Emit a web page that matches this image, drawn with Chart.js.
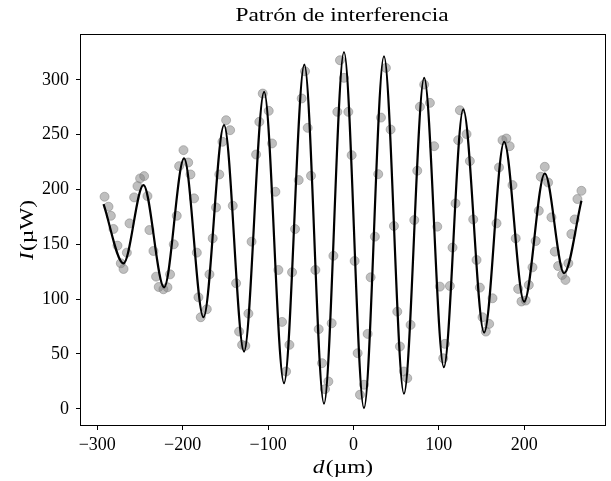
<!DOCTYPE html>
<html>
<head>
<meta charset="utf-8">
<script src="https://cdn.jsdelivr.net/npm/chart.js@4.4.1/dist/chart.umd.min.js"></script>
<style>
html,body{margin:0;padding:0;background:#fff;}
</style>
</head>
<body>
<canvas id="patron" width="611" height="481"></canvas>
<script>
/*medidas: posicion d (um) e intensidad I (uW)*/
var d_med = [-291.4,-286.8,-284,-281,-276.3,-272.4,-269.2,-265.3,-262.2,-256.8,-252.9,-249.8,-245.1,-241.2,-238.9,-234.2,-231.1,-228,-222.5,-217.8,-214.7,-210.4,-206.9,-204.1,-199,-193.5,-190.8,-186.6,-183.4,-181.5,-178.8,
    -171.7,-168.6,-164.8,-160.9,-157.1,-153.4,-149.1,-144.4,-141.3,-137.4,-133.9,-130.4,-126.6,-123,-119.3,-114,-110.2,-106.2,-99.2,-95.3,-91.4,-87.9,-83.6,-78.9,-75,-71.9,-68.4,-64.1,-60.6,-56.7,-53.6,-49.7,-44.6,-40.7,-36.8,
    -33.3,-29.4,-25.5,-23.5,-18.9,-15.8,-11.1,-6,-2.1,1.4,4.9,7.6,12.3,16.6,20.1,25.1,29,32.2,38,43.5,47.4,51.3,54.4,59.1,63,66.9,71.2,74.7,77.8,82.8,89.5,94.5,98.1,101.2,105.1,107,112.9,116,119.5,122.6,124.6,
    132.4,136.3,140.2,144.1,148,151.1,155,158.9,162.8,167.5,170.4,174.5,179,182.9,186.2,190,192.8,196.7,201.7,205.3,209.6,213.4,217,219.3,224,227.9,231.8,235.7,239.6,244.3,248.2,251.6,255.1,259,262.2,266.9];
var i_med = [193.4,184.3,176,164,148.8,132.7,127.5,142.4,169.1,192.8,203.1,210.1,212.2,194,163,143.9,120.5,111.1,109,110.8,122.6,150,176,221.3,235.9,224.6,213.7,191.9,142.4,101.7,83.5,
    90.8,122.6,155.4,183.6,213.7,243.5,263.2,254.1,185.2,114.5,70.4,58.3,57.4,86.8,152.4,231.9,261.7,287.5,271.7,242,197.9,126.6,79.2,34,58.3,124.5,163.9,208.6,283,307.8,256.2,212.5,126.6,72.6,41.6,
    17.9,24.9,78,139.5,270.8,317.9,301.8,270.8,231.3,134.8,50.7,12.8,21.9,68.3,119.9,157,214,265.6,310.9,254.7,166.7,88.6,56.8,34,27.9,76.5,172.1,217.1,275.4,295.7,279,239.5,166.1,111.4,46.1,59.2,112,147,187.3,245,272.3,
    250.5,225.9,172.7,135.7,110.5,83.5,70.4,77.4,100.8,169.1,220.1,245,246.5,239.5,204,155.4,109.3,97.8,98.7,112.9,129,153,180.6,211.6,220.7,206.4,174.6,143.3,130.2,122,117.5,132.7,159.4,172.7,191.3,198.8];
/*curva ajustada: extremos*/
var d_ajuste = [-292.6,-269.2,-245.9,-221.7,-198.3,-175.6,-151.5,-128.1,-104.6,-81.3,-57.5,-34.5,-11.1,12.3,35.7,59.1,82.8,105.8,128.5,153,176.4,199.8,224,246.6,266.9];
var i_ajuste = [186.7,132.7,204,110.8,228.3,83.5,258.7,52.2,289,23.4,313.9,4.6,325.4,0.6,321.5,13.7,301.8,37.9,273,69.5,243.5,97.8,214.6,123.6,189.7];
/*ejes*/
var x_ticks = [-300,-200,-100,0,100,200];
var y_ticks = [0,50,100,150,200,250,300];
var x_lim = [-319, 294.5];
var y_lim = [-14.8, 340.9];

var fuente = "'Liberation Serif', 'DejaVu Serif', serif";
/*la fuente original es mas ancha*/
var ancho = 1.3;

function menos(v){
    return v < 0 ? '\u2212' + Math.abs(v) : String(v);
}
function pares(xs, ys){
    var out = [];
    for (var i = 0; i < xs.length; i++) {
        out.push({x: xs[i], y: ys[i]});
    }
    return out;
}
/*texto con una parte en cursiva, centrado en (0,0)*/
function etiqueta(c, cursiva, resto, tam){
    c.font = 'italic ' + tam + 'px ' + fuente;
    var w1 = c.measureText(cursiva).width + 1;
    c.font = tam + 'px ' + fuente;
    var w2 = c.measureText(resto).width;
    var x0 = -(w1 + w2) / 2;
    c.font = 'italic ' + tam + 'px ' + fuente;
    c.fillText(cursiva, x0, 0);
    c.font = tam + 'px ' + fuente;
    c.fillText(resto, x0 + w1, 0);
}

/*marco y textos*/
var marco = {
    id: 'marco',
    afterDraw: function(chart){
        var c = chart.ctx, a = chart.chartArea;
        var cx = (a.left + a.right) / 2, cy = (a.top + a.bottom) / 2;
        c.save();
        c.strokeStyle = '#000';
        c.lineWidth = 1;
        c.strokeRect(a.left - 0.5, a.top - 0.5, a.right - a.left + 1, a.bottom - a.top + 1);

        c.fillStyle = '#000';
        c.textBaseline = 'alphabetic';
        c.textAlign = 'left';

        c.save();
        c.translate(cx - 1, 21);
        c.scale(ancho, 1);
        c.font = '18px ' + fuente;
        var wt = c.measureText('Patrón de interferencia').width;
        c.fillText('Patrón de interferencia', -wt / 2, 0);
        c.restore();

        c.save();
        c.translate(cx, 473);
        c.scale(ancho, 1);
        etiqueta(c, 'd', '(µm)', 18);
        c.restore();

        c.save();
        c.translate(33, cy);
        c.rotate(-Math.PI / 2);
        c.scale(ancho, 1);
        etiqueta(c, 'I', '(µW)', 18);
        c.restore();

        c.restore();
    }
};

var ctx = document.getElementById('patron').getContext('2d');
var grafico = new Chart(ctx, {
    type: 'scatter',
    data: {
        datasets: [{
            type: 'line',
            data: pares(d_ajuste, i_ajuste),
            borderColor: '#000',
            borderWidth: 2.2,
            pointRadius: 0,
            fill: false,
            showLine: true,
            cubicInterpolationMode: 'monotone'
        }, {
            data: pares(d_med, i_med),
            pointRadius: 4.5,
            backgroundColor: 'rgba(128,128,128,0.5)',
            borderColor: 'rgba(128,128,128,0.5)',
            borderWidth: 1
        }]
    },
    options: {
        responsive: false,
        animation: false,
        events: [],
        layout: {
            padding: {left: 0, right: 6, top: 35, bottom: 0}
        },
        plugins: {
            legend: {display: false},
            title: {display: false},
            tooltip: {enabled: false}
        },
        scales: {
            x: {
                type: 'linear',
                min: x_lim[0],
                max: x_lim[1],
                afterFit: function(s){ s.height = 56; },
                afterBuildTicks: function(s){ s.ticks = x_ticks.map(function(v){ return {value: v}; }); },
                border: {display: false},
                grid: {drawOnChartArea: false, drawTicks: true, tickLength: 5, color: '#000'},
                ticks: {
                    padding: 4,
                    color: '#000',
                    maxRotation: 0,
                    font: {family: fuente, size: 18},
                    callback: menos
                }
            },
            y: {
                type: 'linear',
                min: y_lim[0],
                max: y_lim[1],
                afterFit: function(s){ s.width = 81; },
                afterBuildTicks: function(s){ s.ticks = y_ticks.map(function(v){ return {value: v}; }); },
                border: {display: false},
                grid: {drawOnChartArea: false, drawTicks: true, tickLength: 5, color: '#000'},
                ticks: {
                    padding: 7,
                    color: '#000',
                    font: {family: fuente, size: 18},
                    callback: menos
                }
            }
        }
    },
    plugins: [marco]
});
</script>
</body>
</html>
